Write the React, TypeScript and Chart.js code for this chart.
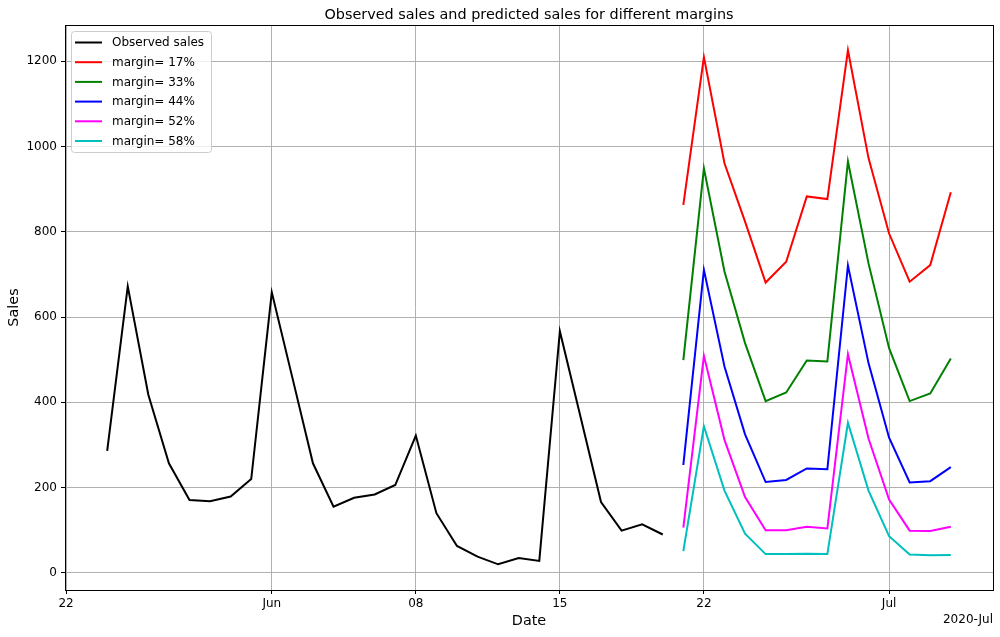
import React, { useEffect, useRef } from "react";
import { Chart, registerables } from "chart.js";

Chart.register(...registerables);

const FONT = "'DejaVu Sans', sans-serif";

const originDate = "2020-05-22";

const observedDates = [
  "2020-05-24", "2020-05-25", "2020-05-26", "2020-05-27", "2020-05-28", "2020-05-29", "2020-05-30",
  "2020-05-31", "2020-06-01", "2020-06-02", "2020-06-03", "2020-06-04", "2020-06-05", "2020-06-06",
  "2020-06-07", "2020-06-08", "2020-06-09", "2020-06-10", "2020-06-11", "2020-06-12", "2020-06-13",
  "2020-06-14", "2020-06-15", "2020-06-16", "2020-06-17", "2020-06-18", "2020-06-19", "2020-06-20",
];
const observedSales = [
  286, 672, 418, 257, 171, 168, 179, 220, 658, 458, 257, 155, 176, 184,
  206, 322, 140, 63, 38, 20, 35, 28, 567, 367, 166, 99, 114, 90,
];

const predictedDates = [
  "2020-06-21", "2020-06-22", "2020-06-23", "2020-06-24", "2020-06-25", "2020-06-26", "2020-06-27",
  "2020-06-28", "2020-06-29", "2020-06-30", "2020-07-01", "2020-07-02", "2020-07-03", "2020-07-04",
];
const margin17 = [863, 1210, 961, 824, 681, 730, 883, 877, 1226, 973, 796, 683, 722, 893];
const margin33 = [499, 949, 707, 539, 403, 423, 498, 496, 965, 726, 527, 403, 421, 503];
const margin44 = [253, 711, 484, 325, 213, 218, 245, 243, 721, 492, 317, 212, 215, 248];
const margin52 = [106, 509, 312, 178, 100, 100, 108, 104, 513, 315, 172, 99, 98, 108];
const margin58 = [51, 344, 193, 92, 44, 44, 45, 44, 352, 193, 86, 43, 41, 42];

const seriesLabels = ["Observed sales", "margin= 17%", "margin= 33%", "margin= 44%", "margin= 52%", "margin= 58%"];
const seriesColors = ["#000000", "#ff0000", "#008000", "#0000ff", "#ff00ff", "#00bfbf"];

const xTickDates = ["2020-05-22", "2020-06-01", "2020-06-08", "2020-06-15", "2020-06-22", "2020-07-01"];
const xTickLabels = ["22", "Jun", "08", "15", "22", "Jul"];
const yTicks = [0, 200, 400, 600, 800, 1000, 1200];

const dayOffset = (d: string) =>
  Math.round((Date.parse(d + "T00:00:00Z") - Date.parse(originDate + "T00:00:00Z")) / 86400000);

const toPoints = (dates: string[], vals: number[]) => dates.map((d, i) => ({ x: dayOffset(d), y: vals[i] }));

const decorPlugin = {
  id: "decor",
  afterDraw(chart: any) {
    const { ctx, chartArea } = chart;
    const { left, right, top, bottom } = chartArea;
    ctx.save();
    // frame
    ctx.strokeStyle = "#000";
    ctx.lineWidth = 1;
    ctx.strokeRect(Math.round(left) + 0.5, Math.round(top) + 0.5, Math.round(right - left), Math.round(bottom - top));
    // title
    ctx.fillStyle = "#000";
    ctx.font = `14.4px ${FONT}`;
    ctx.textAlign = "center";
    ctx.textBaseline = "alphabetic";
    ctx.fillText("Observed sales and predicted sales for different margins", (left + right) / 2, 19);
    // axis titles
    ctx.font = `14.4px ${FONT}`;
    ctx.textBaseline = "middle";
    ctx.fillText("Date", (left + right) / 2, 621);
    ctx.save();
    ctx.translate(14, (top + bottom) / 2);
    ctx.rotate(-Math.PI / 2);
    ctx.fillText("Sales", 0, 0);
    ctx.restore();
    // offset text
    ctx.font = `12px ${FONT}`;
    ctx.textAlign = "right";
    ctx.fillText("2020-Jul", right, 620);
    // legend
    const bx = 71.5, by = 31.5, bw = 140, bh = 121, r = 3;
    ctx.beginPath();
    ctx.moveTo(bx + r, by);
    ctx.lineTo(bx + bw - r, by);
    ctx.quadraticCurveTo(bx + bw, by, bx + bw, by + r);
    ctx.lineTo(bx + bw, by + bh - r);
    ctx.quadraticCurveTo(bx + bw, by + bh, bx + bw - r, by + bh);
    ctx.lineTo(bx + r, by + bh);
    ctx.quadraticCurveTo(bx, by + bh, bx, by + bh - r);
    ctx.lineTo(bx, by + r);
    ctx.quadraticCurveTo(bx, by, bx + r, by);
    ctx.closePath();
    ctx.fillStyle = "rgba(255,255,255,0.8)";
    ctx.fill();
    ctx.strokeStyle = "#cccccc";
    ctx.lineWidth = 1;
    ctx.stroke();
    ctx.font = `12px ${FONT}`;
    ctx.textAlign = "left";
    ctx.textBaseline = "middle";
    seriesLabels.forEach((lab, i) => {
      const y = 42.5 + i * 19.7;
      ctx.strokeStyle = seriesColors[i];
      ctx.lineWidth = 2;
      ctx.beginPath();
      ctx.moveTo(75, y);
      ctx.lineTo(102, y);
      ctx.stroke();
      ctx.fillStyle = "#000";
      ctx.fillText(lab, 112, y + 0.5);
    });
    ctx.restore();
  },
};

export default function App() {
  const ref = useRef<HTMLCanvasElement>(null);
  useEffect(() => {
    if (!ref.current) return;
    const allSeries = [observedSales, margin17, margin33, margin44, margin52, margin58];
    const datasets = allSeries.map((vals, i) => ({
      label: seriesLabels[i],
      data: i === 0 ? toPoints(observedDates, vals) : toPoints(predictedDates, vals),
      borderColor: seriesColors[i],
      backgroundColor: seriesColors[i],
      borderWidth: 2,
      pointRadius: 0,
      tension: 0,
      fill: false,
    }));
    const xTickValues = xTickDates.map(dayOffset);
    const chart = new Chart(ref.current, {
      type: "line",
      data: { datasets },
      plugins: [decorPlugin],
      options: {
        animation: false,
        responsive: false,
        devicePixelRatio: 1,
        layout: { padding: { top: 25, right: 7, left: 0, bottom: 0 } },
        plugins: { legend: { display: false }, title: { display: false }, tooltip: { enabled: false } },
        scales: {
          x: {
            type: "linear",
            min: -0.05,
            max: 45.05,
            afterBuildTicks: (scale: any) => {
              scale.ticks = xTickValues.map((v) => ({ value: v }));
            },
            afterFit: (scale: any) => {
              scale.height = 47;
            },
            ticks: {
              autoSkip: false,
              maxRotation: 0,
              padding: 3,
              color: "#000",
              font: { family: FONT, size: 12 },
              callback: (v: any) => {
                const idx = xTickValues.indexOf(Math.round(Number(v)));
                return idx >= 0 ? xTickLabels[idx] : "";
              },
            },
            grid: { color: "#b0b0b0", lineWidth: 1, tickColor: "#000", tickLength: 4 },
            border: { display: false },
          },
          y: {
            type: "linear",
            min: -40.25,
            max: 1285.25,
            afterBuildTicks: (scale: any) => {
              scale.ticks = yTicks.map((v) => ({ value: v }));
            },
            afterFit: (scale: any) => {
              scale.width = 65;
            },
            ticks: {
              padding: 4,
              color: "#000",
              font: { family: FONT, size: 12 },
              callback: (v: any) => String(v),
            },
            grid: { color: "#b0b0b0", lineWidth: 1, tickColor: "#000", tickLength: 4 },
            border: { display: false },
          },
        },
      },
    });
    return () => chart.destroy();
  }, []);
  return (
    <div style={{ position: "fixed", left: 0, top: 0, width: 1000, height: 637, background: "#fff" }}>
      <canvas ref={ref} width={1000} height={637} style={{ display: "block" }} />
    </div>
  );
}
